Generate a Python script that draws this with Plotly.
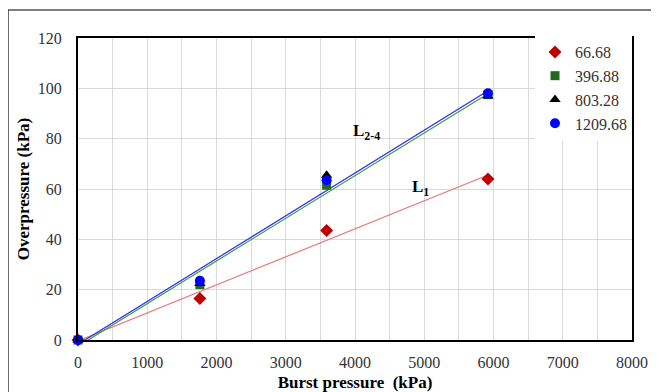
import numpy as np
import plotly.graph_objects as go

burst = [0, 1760, 3590, 5920]
s_6668 = [0, 16.5, 43.5, 64]
s_39688 = [0, 22, 61.5, 97.5]
s_80328 = [0, 22.5, 65.5, 97]
s_120968 = [0, 23.5, 63.5, 98]
series_names = ["66.68", "396.88", "803.28", "1209.68"]

FONT = "Liberation Serif"

fig = go.Figure()

def fit_line(ys, color, width=1.2):
    k, b = np.polyfit(burst, ys, 1)
    xs = np.array([burst[0], burst[-1]])
    fig.add_trace(go.Scatter(x=xs, y=k * xs + b, mode="lines",
                             line=dict(color=color, width=width),
                             showlegend=False, hoverinfo="skip", cliponaxis=False))

fit_line(s_6668, "#e8787a")
fit_line(s_39688, "#3f9a3f")
fit_line(s_80328, "#6a6a6a", 0.8)
fit_line(s_120968, "#3a3aff")

styles = [
    (s_6668, "diamond", "#c00000", 10),
    (s_39688, "square", "#1e6b1e", 9),
    (s_80328, "triangle-up", "#000000", 10),
    (s_120968, "circle", "#0000ff", 10),
]
for name, (ys, sym, col, sz) in zip(series_names, styles):
    fig.add_trace(go.Scatter(x=burst, y=ys, mode="markers", name=name,
                             marker=dict(symbol=sym, color=col, size=sz),
                             cliponaxis=False))

fig.add_annotation(x=4160, y=82.5, text="<b>L<sub>2-4</sub></b>", showarrow=False,
                   font=dict(family=FONT, size=17, color="black"))
fig.add_annotation(x=4940, y=60.5, text="<b>L<sub>1</sub></b>", showarrow=False,
                   font=dict(family=FONT, size=17, color="black"))

# outer chart frame
fig.add_shape(type="rect", xref="paper", yref="paper",
              x0=-0.1264, x1=1.2, y0=-0.3, y1=1.0927,
              line=dict(color="black", width=1.2), layer="below")

tickfont = dict(family=FONT, size=16, color="#333333")

fig.update_layout(
    width=651, height=384,
    margin=dict(l=70, r=27, t=30, b=52),
    paper_bgcolor="white", plot_bgcolor="white",
    font=dict(family=FONT, size=16, color="#333333"),
    legend=dict(x=1, xanchor="right", y=1.01, yanchor="top",
                bgcolor="white", borderwidth=0,
                font=dict(family=FONT, size=16, color="#333333"),
                itemsizing="trace", tracegroupgap=0, itemwidth=30),
    xaxis=dict(range=[0, 8000], dtick=1000, showgrid=True, gridcolor="#d9d9d9",
               minor=dict(dtick=500, showgrid=True, gridcolor="#d9d9d9"),
               showline=True, linecolor="black", linewidth=2, mirror=True,
               zeroline=False, ticks="", ticklabelstandoff=7, automargin=False,
               tickfont=tickfont,
               title=dict(text="<b>Burst pressure  (kPa)</b>",
                          font=dict(family=FONT, size=17, color="black"), standoff=8)),
    yaxis=dict(range=[0, 120], dtick=20, showgrid=True, gridcolor="#d9d9d9",
               showline=True, linecolor="black", linewidth=2, mirror=True,
               zeroline=False, ticks="", ticklabelstandoff=11, automargin=False,
               tickfont=tickfont,
               title=dict(text="<b>Overpressure (kPa)</b>",
                          font=dict(family=FONT, size=17, color="black"), standoff=4)),
)

fig.write_html("out.html")
